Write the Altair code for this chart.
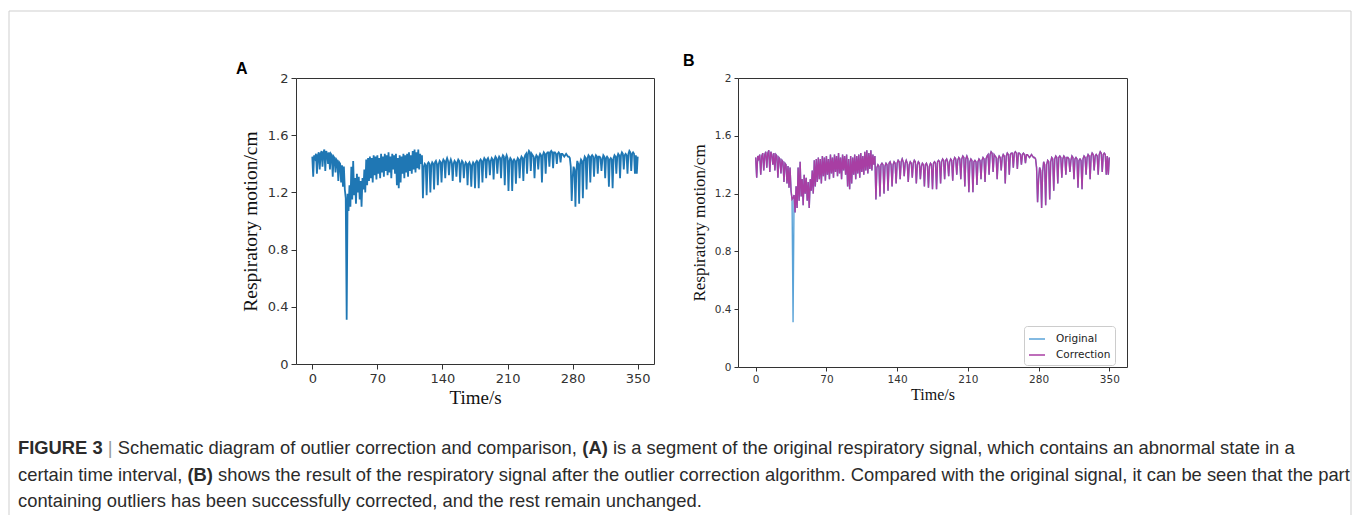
import altair as alt
import pandas as pd

# ---------------- data ----------------
time_s = list(range(0, 351))  # one sample per second

resp_0_59 = [
    1.45, 1.31, 1.46, 1.44, 1.47, 1.33, 1.46, 1.48, 1.36, 1.47,
    1.49, 1.38, 1.48, 1.50, 1.35, 1.49, 1.47, 1.40, 1.48, 1.36,
    1.47, 1.46, 1.31, 1.45, 1.44, 1.34, 1.43, 1.42, 1.28, 1.41,
    1.40, 1.27, 1.39, 1.24, 1.38, 1.22, 1.16, 0.31, 1.19, 1.07,
    1.25, 1.10, 1.38, 1.15, 1.42, 1.18, 1.30, 1.12, 1.33, 1.20,
    1.31, 1.15, 1.28, 1.10, 1.30, 1.22, 1.36, 1.20, 1.43, 1.25,
]
resp_60_119 = [
    1.44, 1.28, 1.45, 1.30, 1.44, 1.27, 1.46, 1.32, 1.45, 1.29,
    1.46, 1.33, 1.44, 1.30, 1.47, 1.34, 1.45, 1.31, 1.47, 1.35,
    1.46, 1.32, 1.48, 1.34, 1.45, 1.30, 1.47, 1.36, 1.46, 1.33,
    1.47, 1.25, 1.44, 1.23, 1.46, 1.27, 1.45, 1.33, 1.47, 1.30,
    1.46, 1.34, 1.47, 1.31, 1.48, 1.35, 1.46, 1.33, 1.49, 1.36,
    1.50, 1.34, 1.48, 1.37, 1.50, 1.36, 1.47, 1.40, 1.46, 1.16,
]
resp_120_350 = [
    1.38, 1.40, 1.39, 1.18,  1.40, 1.41, 1.40, 1.20,  1.39, 1.41, 1.40, 1.22,
    1.41, 1.42, 1.40, 1.25,  1.40, 1.42, 1.41, 1.27,  1.41, 1.43, 1.42, 1.30,
    1.42, 1.44, 1.42, 1.32,  1.41, 1.43, 1.41, 1.28,  1.40, 1.42, 1.41, 1.31,
    1.41, 1.43, 1.42, 1.27,  1.40, 1.42, 1.41, 1.30,  1.39, 1.41, 1.40, 1.25,
    1.40, 1.41, 1.39, 1.24,  1.39, 1.41, 1.40, 1.23,  1.41, 1.42, 1.41, 1.23,
    1.42, 1.43, 1.42, 1.27,  1.42, 1.44, 1.43, 1.30,  1.43, 1.44, 1.42, 1.32,
    1.42, 1.44, 1.43, 1.29,  1.43, 1.45, 1.44, 1.33,  1.43, 1.45, 1.44, 1.30,
    1.44, 1.46, 1.45, 1.25,  1.44, 1.46, 1.44, 1.21,  1.42, 1.44, 1.43, 1.21,
    1.42, 1.43, 1.42, 1.26,  1.42, 1.44, 1.43, 1.30,  1.43, 1.45, 1.44, 1.28,
    1.44, 1.46, 1.47, 1.33,  1.47, 1.49, 1.48, 1.35,  1.47, 1.46, 1.45, 1.30,
    1.44, 1.46, 1.45, 1.36,  1.45, 1.47, 1.46, 1.27,  1.46, 1.48, 1.47, 1.33,
    1.47, 1.48, 1.48, 1.38,  1.48, 1.49, 1.48, 1.37,  1.48, 1.48, 1.47, 1.40,
    1.47, 1.48, 1.47, 1.41,  1.47, 1.47, 1.46, 1.45,  1.46, 1.47, 1.46, 1.45,
    1.45, 1.44, 1.38, 1.14,  1.30, 1.38, 1.36, 1.10,  1.35, 1.42, 1.40, 1.12,
    1.40, 1.43, 1.42, 1.16,  1.42, 1.45, 1.44, 1.22,  1.44, 1.46, 1.45, 1.27,
    1.45, 1.46, 1.45, 1.31,  1.44, 1.46, 1.45, 1.33,  1.45, 1.45, 1.44, 1.35,
    1.43, 1.46, 1.45, 1.30,  1.44, 1.45, 1.44, 1.24,  1.43, 1.44, 1.43, 1.23,
    1.44, 1.46, 1.45, 1.33,  1.45, 1.47, 1.46, 1.30,  1.46, 1.48, 1.47, 1.36,
    1.46, 1.47, 1.46, 1.33,  1.47, 1.49, 1.48, 1.35,  1.47, 1.48, 1.47, 1.33,
    1.46, 1.33, 1.45,
]
original = resp_0_59 + resp_60_119 + resp_120_350
assert len(original) == len(time_s)

outlier_index = 37          # sample at t = 37 s
corrected_value = 1.17      # value after the outlier correction
correction = list(original)
correction[outlier_index] = corrected_value

x_ticks = [0, 70, 140, 210, 280, 350]
y_ticks = [0, 0.4, 0.8, 1.2, 1.6, 2.0]
series_names = ["Original", "Correction"]
series_colors = ["#5aa3d8", "#a83ea3"]
panel_a_color = "#1f77b4"

caption_lines = [
    [("FIGURE 3", "bold", "#2b2b2b"),
     (" | ", "normal", "#9a9a9a"),
     ("Schematic diagram of outlier correction and comparison, ", "normal", "#2b2b2b"),
     ("(A)", "bold", "#2b2b2b"),
     (" is a segment of the original respiratory signal, which contains an abnormal state in a", "normal", "#2b2b2b")],
    [("certain time interval, ", "normal", "#2b2b2b"),
     ("(B)", "bold", "#2b2b2b"),
     (" shows the result of the respiratory signal after the outlier correction algorithm. Compared with the original signal, it can be seen that the part", "normal", "#2b2b2b")],
    [("containing outliers has been successfully corrected, and the rest remain unchanged.", "normal", "#2b2b2b")],
]

# ---------------- layout helpers ----------------
HELV = {' ': 278, ',': 278, '.': 278, '|': 260, '(': 333, ')': 333,
        'a': 556, 'b': 556, 'c': 500, 'd': 556, 'e': 556, 'f': 278, 'g': 556,
        'h': 556, 'i': 222, 'j': 222, 'k': 500, 'l': 222, 'm': 833, 'n': 556,
        'o': 556, 'p': 556, 'q': 556, 'r': 333, 's': 500, 't': 278, 'u': 556,
        'v': 500, 'w': 722, 'x': 500, 'y': 500, 'z': 500, 'C': 722, 'S': 667}
HELV_B = {' ': 278, '(': 333, ')': 333, 'A': 722, 'B': 722, 'F': 611, 'I': 278,
          'G': 778, 'U': 722, 'R': 722, 'E': 667, '3': 556}


def em(s, weight):
    table = HELV_B if weight == "bold" else HELV
    return sum(table.get(c, 556) for c in s) / 1000.0


A_W, A_H = 358, 286
B_W, B_H = 389, 289
# positions relative to panel A's plot origin (screen 295, 77)
cap_x0 = -278
cap_baselines = [376, 403, 429]
line1_target = 1277
cap_fs = line1_target / sum(em(s, w) for s, w, _ in caption_lines[0])

dummy = pd.DataFrame({"k": [0]})
caption_layers = []
for line, base in zip(caption_lines, cap_baselines):
    cursor = cap_x0
    for seg, weight, col in line:
        lead = len(seg) - len(seg.lstrip())
        xt = cursor + em(seg[:lead], weight) * cap_fs
        caption_layers.append(
            alt.Chart(dummy).mark_text(
                text=seg.strip(), align="left", baseline="alphabetic",
                font="Liberation Sans", fontSize=cap_fs, fontWeight=weight, color=col,
            ).encode(x=alt.value(xt), y=alt.value(base))
        )
        cursor += em(seg, weight) * cap_fs

label_a = alt.Chart(dummy).mark_text(
    text="A", align="left", baseline="alphabetic", font="Liberation Sans",
    fontSize=16, fontWeight="bold", color="#000",
).encode(x=alt.value(-60), y=alt.value(-4))

border_color = "#cfcfcf"
border_layers = [
    alt.Chart(dummy).mark_rule(color=border_color, strokeWidth=1).encode(
        x=alt.value(-287), y=alt.value(-67), y2=alt.value(437)),
    alt.Chart(dummy).mark_rule(color=border_color, strokeWidth=1).encode(
        x=alt.value(1055), y=alt.value(-67), y2=alt.value(437)),
    alt.Chart(dummy).mark_rule(color=border_color, strokeWidth=1).encode(
        x=alt.value(-287), x2=alt.value(1055), y=alt.value(-67)),
]


def x_enc(label_fs, title_fs, tick, title_y, width):
    return alt.X("t:Q",
                 scale=alt.Scale(domain=[-17.5, 367.5], nice=False, zero=False),
                 axis=alt.Axis(values=x_ticks, title="Time/s", grid=False, domain=False,
                               tickSize=tick, tickColor="#333", tickWidth=1,
                               labelFont="DejaVu Sans", labelFontSize=label_fs,
                               labelColor="#333", labelPadding=3, labelFlush=False,
                               titleFont="Liberation Serif", titleFontSize=title_fs,
                               titleFontWeight="normal", titleColor="#111",
                               titleX=width / 2, titleY=title_y,
                               titleAlign="center", titleBaseline="middle"))


def y_enc(label_fs, title_fs, tick, title_x, height):
    return alt.Y("v:Q",
                 scale=alt.Scale(domain=[0, 2], nice=False, zero=False),
                 axis=alt.Axis(values=y_ticks, format=".1~f", title="Respiratory motion/cm",
                               grid=False, domain=False,
                               tickSize=tick, tickColor="#333", tickWidth=1,
                               labelFont="DejaVu Sans", labelFontSize=label_fs,
                               labelColor="#333", labelPadding=3, labelFlush=False,
                               titleFont="Liberation Serif", titleFontSize=title_fs,
                               titleFontWeight="normal", titleColor="#111",
                               titleX=title_x, titleY=height / 2, titleAngle=270,
                               titleAlign="center", titleBaseline="middle"))


# ---------------- panel A ----------------
df_a = pd.DataFrame({"t": time_s, "v": original})
line_a = alt.Chart(df_a).mark_line(color=panel_a_color, strokeWidth=1.8).encode(
    x=x_enc(13, 19, 5, 33, A_W), y=y_enc(13, 19.5, 5, -46, A_H))

panel_a = alt.layer(line_a, label_a, *caption_layers, *border_layers).properties(
    width=A_W, height=A_H)

# ---------------- panel B ----------------
df_b = pd.concat([
    pd.DataFrame({"t": time_s, "v": original, "series": "Original"}),
    pd.DataFrame({"t": time_s, "v": correction, "series": "Correction"}),
], ignore_index=True)

color_b = alt.Color("series:N",
                    scale=alt.Scale(domain=series_names, range=series_colors),
                    legend=alt.Legend(title=None, orient="none", legendX=286, legendY=248,
                                      symbolType="stroke", symbolSize=256, symbolStrokeWidth=1.5,
                                      labelFont="DejaVu Sans", labelFontSize=10.5,
                                      labelColor="#222", labelOffset=10, rowPadding=1,
                                      fillColor="white", strokeColor="#cccccc",
                                      cornerRadius=3, padding=4))

base_b = alt.Chart(df_b).encode(
    x=x_enc(10.5, 16, 4, 27, B_W), y=y_enc(10.5, 17, 4, -39, B_H), color=color_b)
line_b_orig = base_b.transform_filter(alt.datum.series == "Original").mark_line(strokeWidth=1.4)
line_b_corr = base_b.transform_filter(alt.datum.series == "Correction").mark_line(strokeWidth=1.4)

panel_b = alt.layer(line_b_orig, line_b_corr).properties(
    width=B_W, height=B_H,
    title=alt.TitleParams("B", anchor="start", frame="group", dx=-55, offset=4, fontSize=16,
                          font="Liberation Sans", fontWeight="bold", color="#000"))

chart = alt.hconcat(panel_a, panel_b, spacing=84, bounds="flush").resolve_legend(
    color="independent"
).properties(
    padding={"left": 8, "top": 10, "right": 0, "bottom": 0},
    background="white",
).configure_view(stroke="#333", strokeWidth=1)

chart.save("out.html", embed_options={"renderer": "svg", "actions": False})
